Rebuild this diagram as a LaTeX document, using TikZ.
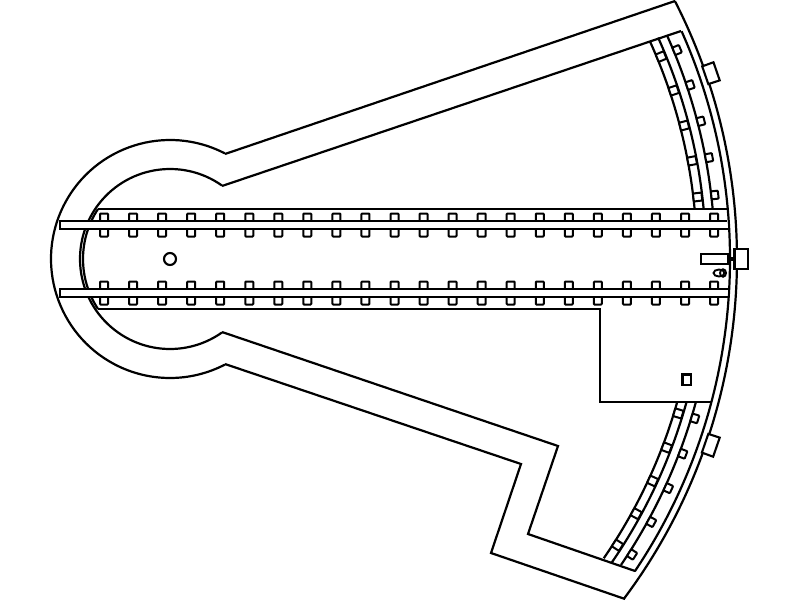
\documentclass[tikz,border=0pt]{standalone}
\tikzset{
  wall/.style={line width=2.2pt,line join=miter},
  sleeper/.style={line width=2pt,fill=white,rounded corners=0.8pt},
  part/.style={line width=2.1pt,fill=white}
}
\begin{document}
\begin{tikzpicture}[x=1pt,y=-1pt]
\useasboundingbox (0,0) rectangle (800,600);
\coordinate (c) at (170,259);
% outer wall
\draw[wall] (225,154) -- (675,1);
\draw[wall] (225,364) -- (521,464) -- (491,553) -- (625,599);
\begin{scope}[shift={(c)}]
 \draw[wall] (-27.06:567) arc[start angle=-27.06,end angle=36.8,radius=567];
 \draw[wall] (-24:560) arc[start angle=-24,end angle=33.9,radius=560];
 \draw[wall] (-62.5:119) arc[start angle=-62.5,end angle=-297.5,radius=119];
 \draw[wall] (-54.7:90) arc[start angle=-54.7,end angle=-305.3,radius=90];
\end{scope}
% inner wall
\draw[wall] (222,186) -- (681,31);
\draw[wall] (222,332) -- (558,446) -- (528,534) -- (635,571);
% end wall arc inside the round chamber
\draw[wall] (98,209) arc[start angle=-146.6,end angle=-213.4,radius=90.8];
% sleepers of the straight tracks
\foreach \i in {0,...,21}{
  \pgfmathsetmacro{\sx}{104+29.05*\i}
  \draw[sleeper] (\sx-4,213.5) rectangle (\sx+4,236.5);
  \draw[sleeper] (\sx-4,281.5) rectangle (\sx+4,304.5);
}
% straight lines and rails
\draw[wall] (98,209) -- (727.8,209);
\draw[wall] (98,309) -- (600,309) -- (600,402) -- (711,402);
\draw[wall,fill=white] (727.2,221) -- (60,221) -- (60,229) -- (728,229);
\draw[wall,fill=white] (728,289) -- (60,289) -- (60,297) -- (727.5,297);
% curved tracks
\begin{scope}[shift={(c)}]
 \draw[wall] (-24.4:527) arc[start angle=-24.4,end angle=-5.44,radius=527];
 \draw[wall] (-24.4:536) arc[start angle=-24.4,end angle=-5.35,radius=536];
 \draw[wall] (-24.2:545) arc[start angle=-24.2,end angle=-5.26,radius=545];
 \draw[wall] (15.75:527) arc[start angle=15.75,end angle=34.6,radius=527];
 \draw[wall] (15.47:536) arc[start angle=15.47,end angle=34.5,radius=536];
 \draw[wall] (15.2:545) arc[start angle=15.2,end angle=34.15,radius=545];
 \foreach \a in {-22.4,-18.5,-14.55,-10.65,-6.7,16.9,20.8,24.7,28.65,32.6}{
  \draw[sleeper,rotate=-\a] (527,-4) rectangle (535.5,4);
  \draw[sleeper,rotate=-\a] (545,-4) rectangle (552,4);
 }
 % boxes on the outer wall
 \draw[part] (-19.9:566) -- (-19.9:578) -- (-18:578) -- (-18:566) -- cycle;
 \draw[part] (18:566) -- (18:578) -- (20:578) -- (20:566) -- cycle;
\end{scope}
% gate and its mechanism
\draw[line width=3.4pt] (727,259) -- (735,259);
\draw[part] (701,254) rectangle (728,264);
\draw[part] (734.5,249) rectangle (748,269);
\draw[line width=1.9pt] (719,273) ellipse [x radius=5.5,y radius=3.5];
\draw[line width=1.9pt] (723,273) ellipse [x radius=3,y radius=3.8];
% small details
\draw[part] (682.5,374.5) rectangle (691,385);
\draw[part] (170,259) circle [radius=6];
\end{tikzpicture}
\end{document}
